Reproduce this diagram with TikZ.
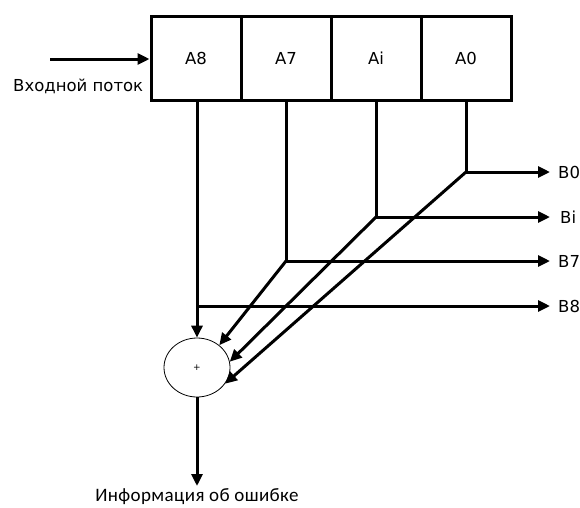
\documentclass[tikz,border=0pt]{standalone}
\usepackage{fontspec}
\setmainfont{DejaVu Sans}
\newfontfamily\calfont[LetterSpace=2]{Carlito}
\usetikzlibrary{arrows.meta,shapes.geometric}
\begin{document}
\begin{tikzpicture}[x=1pt,y=-1pt,
  wire/.style={line width=3pt},
  arr/.style={wire,-{Triangle[length=12pt,width=11pt]}},
  cell/.style={draw,line width=3pt,minimum width=90pt,minimum height=84pt,inner sep=0pt,font=\fontsize{16.5}{18}\selectfont},
  lbl/.style={font=\fontsize{16.5}{18}\selectfont,inner sep=0pt}]
\useasboundingbox (0,0) rectangle (580,507);
\node[cell] (a8) at (196,58.5) {A8};
\node[cell] (a7) at (286,58.5) {A7};
\node[cell] (ai) at (376,58.5) {Ai};
\node[cell] (a0) at (466,58.5) {A0};
\node[ellipse,draw,line width=0.8pt,minimum width=66pt,minimum height=59pt,inner sep=0pt,font=\fontsize{9}{10}\selectfont] (sum) at (197,367.5) {+};
\coordinate (in) at (50,59);
\coordinate (j0) at (466,172);
\coordinate (ji) at (376,217);
\coordinate (j7) at (286,261);
\coordinate (j8) at (197,306);
\coordinate (e0) at (550,172);
\coordinate (ei) at (550,217);
\coordinate (e7) at (550,261);
\coordinate (e8) at (550,306);
\coordinate (out) at (197,486);
\node[lbl,anchor=west] (b0) at (558,172) {B0};
\node[lbl,anchor=west] (bi) at (560,217) {Bi};
\node[lbl,anchor=west] (b7) at (558,261) {B7};
\node[lbl,anchor=west] (b8) at (558,306) {B8};
\node[lbl,anchor=west] (inl) at (13,86) {Входной поток};
\node[lbl,font=\calfont\fontsize{19}{21}\selectfont,anchor=base] (outl) at (197,501.5) {Информация об ошибке};
\draw[arr] (in) -- (a8.west |- in);
\draw[wire] (a0.south) -- (j0);
\draw[wire] (ai.south) -- (ji);
\draw[wire] (a7.south) -- (j7);
\draw[arr] (j0) -- (e0);
\draw[arr] (ji) -- (ei);
\draw[arr] (j7) -- (e7);
\draw[arr] (j8) -- (e8);
\draw[wire] (197,101) -- (j8);
\draw[arr] (j8) -- (sum.north);
\draw[arr] (j7) -- (sum.45);
\draw[arr] (ji) -- (sum.10);
\draw[arr] (j0) -- (sum.-30);
\draw[arr] (sum.south) -- (out);
\end{tikzpicture}
\end{document}
